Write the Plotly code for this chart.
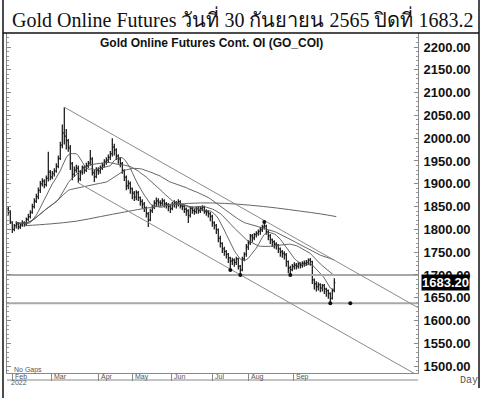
import plotly.graph_objects as go
import pandas as pd

# ---------------- data ----------------
TITLE = "Gold Online Futures วันที่ 30 กันยายน 2565 ปิดที่ 1683.2"
HEADER = "Gold Online Futures Cont. OI (GO_COI)"

OPEN = [1845,1838,1815,1800,1808,1812,1805,1810,1815,1812,
        1822,1828,1838,1850,1862,1872,1886,1900,1906,1898,
        1912,1926,1915,1922,1928,1938,1956,1985,2012,2004,
        1994,1978,1944,1921,1930,1934,1911,1926,1936,1930,
        1940,1946,1954,1924,1916,1930,1928,1935,1941,1948,
        1952,1958,1966,1981,1974,1961,1954,1944,1929,1914,
        1896,1901,1889,1879,1871,1881,1869,1861,1856,1847,
        1834,1821,1841,1849,1857,1863,1859,1857,1863,1856,
        1854,1851,1846,1854,1859,1855,1861,1851,1851,1844,
        1841,1831,1846,1841,1839,1846,1841,1846,1849,1839,
        1839,1834,1829,1814,1809,1799,1781,1769,1757,1751,
        1746,1737,1731,1733,1727,1736,1719,1711,1736,1746,
        1761,1771,1786,1781,1789,1791,1796,1799,1806,1807,
        1794,1786,1777,1773,1767,1766,1757,1751,1747,1744,
        1729,1716,1711,1719,1721,1719,1725,1721,1726,1725,
        1727,1733,1729,1689,1681,1674,1679,1671,1677,1669,
        1666,1659,1649,1666]
HIGH = [1851,1842,1818,1812,1818,1815,1814,1820,1818,1826,
        1834,1842,1856,1868,1878,1892,1906,1912,1910,1918,
        1970,1930,1928,1934,1945,1962,1992,2030,2068,2020,
        1998,1985,1948,1938,1942,1940,1930,1940,1940,1946,
        1950,1974,1958,1930,1936,1936,1940,1946,1954,1958,
        1964,1972,2000,1988,1978,1965,1958,1948,1932,1918,
        1908,1905,1892,1884,1886,1884,1872,1866,1860,1850,
        1838,1845,1854,1864,1870,1868,1864,1868,1866,1860,
        1858,1854,1860,1864,1862,1866,1864,1856,1854,1848,
        1844,1850,1850,1846,1850,1850,1850,1853,1852,1844,
        1842,1838,1832,1818,1812,1802,1786,1772,1762,1755,
        1748,1740,1738,1736,1740,1738,1722,1740,1750,1768,
        1776,1790,1790,1792,1796,1800,1805,1810,1816,1810,
        1798,1790,1780,1776,1772,1768,1760,1755,1752,1748,
        1732,1720,1724,1728,1726,1728,1728,1730,1732,1733,
        1736,1737,1731,1692,1686,1684,1682,1680,1680,1672,
        1668,1662,1670,1693]
LOW = [1832,1812,1792,1796,1802,1800,1801,1806,1806,1808,
       1818,1824,1834,1846,1858,1866,1880,1894,1890,1894,
       1905,1908,1910,1916,1924,1934,1952,1978,1986,1975,
       1970,1930,1908,1915,1924,1902,1906,1920,1922,1926,
       1934,1940,1918,1904,1912,1920,1922,1930,1936,1942,
       1946,1952,1960,1962,1952,1944,1936,1922,1906,1886,
       1888,1878,1866,1862,1864,1862,1852,1846,1838,1826,
       1805,1818,1836,1844,1850,1852,1850,1852,1848,1846,
       1840,1836,1842,1848,1846,1850,1846,1842,1836,1830,
       1814,1826,1834,1832,1834,1834,1836,1840,1834,1830,
       1826,1818,1806,1800,1790,1772,1760,1748,1742,1736,
       1726,1711,1722,1718,1722,1712,1700,1708,1730,1740,
       1755,1766,1772,1776,1782,1786,1788,1794,1800,1788,
       1776,1768,1762,1758,1756,1748,1740,1738,1734,1718,
       1704,1700,1708,1712,1712,1714,1714,1716,1718,1720,
       1722,1720,1680,1668,1664,1666,1662,1664,1658,1652,
       1648,1638,1646,1662]
CLOSE = [1840,1818,1800,1808,1812,1806,1810,1815,1812,1822,
         1828,1836,1850,1862,1872,1885,1900,1906,1898,1912,
         1925,1915,1922,1928,1938,1955,1985,2010,2005,1995,
         1980,1945,1920,1930,1935,1910,1925,1935,1930,1940,
         1945,1955,1925,1915,1930,1928,1935,1940,1948,1952,
         1958,1965,1980,1975,1960,1955,1945,1930,1915,1895,
         1900,1890,1880,1870,1880,1870,1862,1855,1848,1835,
         1820,1840,1848,1858,1862,1860,1858,1862,1856,1855,
         1850,1845,1855,1858,1856,1860,1852,1850,1845,1840,
         1830,1845,1842,1840,1845,1842,1845,1848,1840,1838,
         1835,1828,1815,1808,1800,1780,1770,1758,1752,1745,
         1738,1730,1732,1728,1735,1720,1710,1735,1745,1762,
         1770,1785,1782,1788,1792,1795,1800,1805,1808,1795,
         1785,1778,1772,1768,1765,1758,1750,1748,1745,1730,
         1715,1712,1718,1722,1720,1724,1722,1725,1726,1728,
         1732,1730,1690,1680,1675,1678,1672,1676,1670,1665,
         1660,1648,1665,1683.2]

MONTH_IDX = [2, 21.5, 45, 62, 81.5, 102, 120, 142.5]
MONTH_LABELS = ["Feb", "Mar", "Apr", "May", "Jun", "Jul", "Aug", "Sep"]

# long moving average, read as points
LONG_MA_IDX = [8, 21, 34, 46, 58, 71, 84, 96, 108, 121, 134, 146, 156, 164]
LONG_MA_VAL = [1808, 1812, 1818, 1828, 1838, 1848, 1855, 1858, 1857, 1853, 1847, 1840, 1834, 1828]
MA_WINDOWS = [10, 25, 50]

CHANNEL_UPPER_X = [28, 205]
CHANNEL_UPPER_Y = [2068, 1628]
CHANNEL_LOWER_X = [35, 205]
CHANNEL_LOWER_Y = [1902, 1479]

LEVELS = [1700, 1638]
SWING_X = [111, 116, 128, 141, 161, 171]
SWING_Y = [1711, 1700, 1816, 1700, 1638, 1638]

LAST_CLOSE = 1683.2
Y_TICKS = list(range(1500, 2201, 50))

# ---------------- figure ----------------
idx = list(range(len(CLOSE)))
X_RANGE = [-0.65, 204.85]
Y_RANGE = [1485, 2230.7]

fig = go.Figure()

# moving averages (derived from the closes)
cs = pd.Series(CLOSE)
for w in MA_WINDOWS:
    ma = cs.rolling(w, min_periods=1).mean()
    ma.iloc[:4] = None
    fig.add_trace(go.Scatter(x=idx, y=ma, mode="lines",
                             line=dict(color="#555555", width=0.9),
                             hoverinfo="skip", showlegend=False))

fig.add_trace(go.Scatter(x=LONG_MA_IDX, y=LONG_MA_VAL, mode="lines",
                         line=dict(color="#666666", width=1, shape="spline"),
                         hoverinfo="skip", showlegend=False))

# horizontal levels
for lv in LEVELS:
    fig.add_trace(go.Scatter(x=X_RANGE, y=[lv, lv], mode="lines",
                             line=dict(color="#a8a8a8", width=2),
                             hoverinfo="skip", showlegend=False))

# channel lines
fig.add_trace(go.Scatter(x=CHANNEL_UPPER_X, y=CHANNEL_UPPER_Y, mode="lines",
                         line=dict(color="#8a8a8a", width=1),
                         hoverinfo="skip", showlegend=False))
fig.add_trace(go.Scatter(x=CHANNEL_LOWER_X, y=CHANNEL_LOWER_Y, mode="lines",
                         line=dict(color="#8a8a8a", width=1),
                         hoverinfo="skip", showlegend=False))

# price bars
fig.add_trace(go.Ohlc(x=idx, open=OPEN, high=HIGH, low=LOW, close=CLOSE,
                      increasing=dict(line=dict(color="#111111", width=1.2)),
                      decreasing=dict(line=dict(color="#111111", width=1.2)),
                      tickwidth=0.5, showlegend=False))

# swing markers
fig.add_trace(go.Scatter(x=SWING_X, y=SWING_Y, mode="markers",
                         marker=dict(color="#111111", size=4, symbol="circle"),
                         hoverinfo="skip", showlegend=False))

W, H = 483, 398
PL, PR, PT, PB = 7, 418, 33, 373


def px(xp):
    return (xp - PL) / (PR - PL)


def py(yp):
    return (PB - yp) / (PB - PT)


shapes = [
    dict(type="line", xref="paper", yref="paper", x0=px(3), x1=px(3), y0=py(0), y1=py(398),
         line=dict(color="#111", width=1.5)),
    dict(type="line", xref="paper", yref="paper", x0=px(479), x1=px(479), y0=py(0), y1=py(388),
         line=dict(color="#111", width=1.5)),
    dict(type="line", xref="paper", yref="paper", x0=px(3), x1=px(479), y0=py(33), y1=py(33),
         line=dict(color="#111", width=1.5)),
    dict(type="line", xref="paper", yref="paper", x0=0, x1=1, y0=py(380), y1=py(380),
         line=dict(color="#888", width=1)),
]

annotations = [
    dict(text=TITLE, xref="paper", yref="paper", x=px(10), y=py(19), xanchor="left", yanchor="middle",
         showarrow=False, font=dict(family="Liberation Serif, Noto Sans, serif", size=20, color="#111")),
    dict(text=HEADER, xref="paper", yref="paper", x=px(211), y=py(43), xanchor="center", yanchor="middle",
         showarrow=False, font=dict(family="Liberation Sans, Arial, sans-serif", size=12, color="#111", weight="bold")),
    dict(text=f"{LAST_CLOSE:.2f}", xref="paper", yref="y", x=1, xshift=3, y=LAST_CLOSE,
         xanchor="left", yanchor="middle", showarrow=False, bgcolor="#000", borderpad=0,
         font=dict(family="Liberation Sans, Arial, sans-serif", size=13, color="#fff", weight="bold")),
    dict(text="No Gaps", xref="paper", yref="paper", x=px(12), y=py(370), xanchor="left", yanchor="middle",
         showarrow=False, font=dict(family="Liberation Sans, Arial, sans-serif", size=7, color="#555")),
    dict(text="2022", xref="paper", yref="paper", x=px(9), y=py(383), xanchor="left", yanchor="middle",
         showarrow=False, font=dict(family="Liberation Sans, Arial, sans-serif", size=7, color="#555")),
    dict(text="Day", xref="paper", yref="paper", x=px(458), y=py(380), xanchor="left", yanchor="middle",
         showarrow=False, font=dict(family="Liberation Mono, monospace", size=10, color="#555")),
]
for mi, ml in zip(MONTH_IDX, MONTH_LABELS):
    annotations.append(dict(text=ml, xref="x", yref="paper", x=mi, xshift=1, y=py(376.5),
                            xanchor="left", yanchor="middle", showarrow=False,
                            font=dict(family="Liberation Sans, Arial, sans-serif", size=7, color="#555")))

fig.update_layout(
    width=W, height=H,
    margin=dict(l=PL, r=W - PR, t=PT, b=H - PB),
    paper_bgcolor="white", plot_bgcolor="white",
    showlegend=False,
    shapes=shapes,
    annotations=annotations,
    xaxis=dict(range=X_RANGE, showgrid=False, zeroline=False, rangeslider=dict(visible=False),
               tickvals=MONTH_IDX, showticklabels=False, ticks="outside", ticklen=7,
               tickcolor="#888", showline=True, linecolor="#888", linewidth=1),
    yaxis=dict(range=Y_RANGE, side="right", showgrid=False, zeroline=False,
               tickvals=Y_TICKS, tickformat=".2f", ticks="inside", ticklen=4, tickcolor="#888",
               showline=True, linecolor="#888", linewidth=1, mirror="ticks",
               minor=dict(dtick=10, ticklen=2, ticks="inside", tickcolor="#999"),
               ticklabelstandoff=2,
               tickfont=dict(family="Liberation Sans, Arial, sans-serif", size=13, color="#111", weight="bold")),
)

fig.write_html("out.html", config={"displayModeBar": False},
               post_script="document.body.style.margin='0';document.body.style.overflow='hidden';")
